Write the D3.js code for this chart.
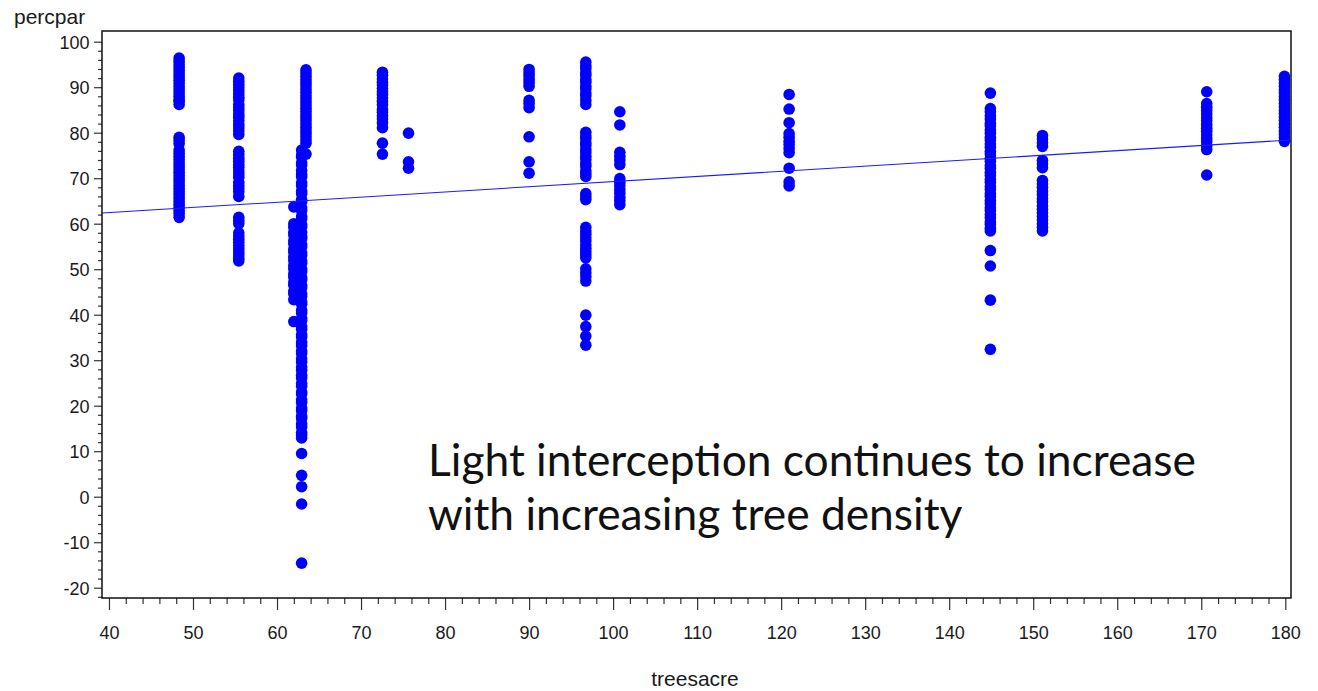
<!DOCTYPE html>
<html>
<head>
<meta charset="utf-8">
<script src="https://cdn.jsdelivr.net/npm/d3@7"></script>
<style>
  html, body { margin: 0; padding: 0; background: #fff; }
  svg { display: block; }
</style>
</head>
<body>
<svg id="chart" width="1318" height="691"></svg>
<script>
// Stand densities (trees per acre) and measured percent PAR interception at each stand
const stands = [48.35, 55.45, 63.45, 62.93, 62.0, 72.55, 75.65, 90.0, 96.75, 100.8, 120.95, 144.9, 151.1, 170.65, 179.9];

const par48 = [96.4, 95.7, 95.0, 94.3, 93.6, 92.9, 92.2, 91.5, 90.8, 90.1, 89.4, 88.7, 88.0, 87.3, 86.9, 86.2,
  79.0, 78.4, 77.6, 76.2, 75.5, 74.8, 74.1, 73.4, 72.7, 72.0, 71.3, 70.6, 69.9, 69.2, 68.5, 67.8, 67.1,
  66.4, 65.7, 65.0, 64.3, 63.6, 62.9, 62.2, 61.4];
const par55 = [92.0, 91.3, 90.6, 89.9, 89.2, 88.5, 87.8, 87.2, 86.2, 85.5, 84.8, 84.0, 83.4, 82.6, 81.8, 81.1, 80.4, 79.6,
  75.9, 75.2, 74.4, 73.7, 73.0, 72.4, 71.6, 70.9, 70.2, 69.1, 68.4, 67.7, 67.0, 66.0,
  61.4, 60.7, 60.0, 58.0, 57.3, 56.6, 55.9, 55.2, 54.5, 53.8, 53.1, 52.4, 51.8];
const par63a = [93.8, 93.1, 92.4, 91.7, 91.0, 90.3, 89.6, 88.9, 88.2, 87.5, 86.8, 86.1, 85.4, 84.7, 84.0, 83.3,
  82.6, 81.9, 81.2, 80.5, 79.8, 79.1, 78.4, 77.7, 75.3];
const par63b = [76.2, 75.1, 74.6, 73.4, 72.9, 71.7, 70.8, 70.3, 69.0, 68.4, 67.1, 66.6, 65.3, 64.8, 63.5, 62.9,
  61.6, 61.1, 59.8, 59.3, 58.1, 57.2, 56.7, 55.4, 54.9, 53.6, 53.0, 51.8, 51.3, 50.0, 49.5, 48.2, 47.7,
  46.4, 45.9, 44.6, 44.0, 42.8, 42.3, 41.0, 40.4, 39.2, 38.7, 37.4, 36.8, 35.6, 35.1, 33.9, 33.2, 32.0,
  31.5, 30.3, 29.6, 28.5, 27.8, 26.7, 26.1, 24.9, 24.3, 23.0, 22.6, 21.3, 20.7, 19.5, 18.9, 17.7, 17.2,
  16.0, 15.3, 14.1, 13.6, 12.9, 9.5, 4.7, 2.2, -1.6, -14.6];
const par62 = [63.7, 60.0, 59.2, 58.1, 57.5, 56.3, 55.6, 54.4, 53.8, 52.7, 51.9, 50.8, 50.1, 49.0, 48.3, 47.1,
  46.5, 45.2, 44.6, 43.3, 38.5];
const par72 = [93.3, 92.6, 91.8, 91.1, 90.5, 89.7, 89.0, 88.4, 87.6, 86.9, 86.2, 85.1, 84.5, 83.7, 83.0, 82.2,
  81.1, 77.7, 75.3];
const par75 = [79.9, 73.6, 72.2];
const par90 = [93.9, 93.1, 92.5, 91.7, 91.0, 90.2, 87.1, 86.4, 85.5, 79.1, 73.6, 71.1];
const par97 = [95.5, 94.7, 94.1, 93.2, 92.6, 91.7, 91.1, 90.2, 89.6, 88.7, 88.1, 87.1, 86.2,
  80.1, 79.3, 78.7, 77.8, 77.2, 76.3, 75.6, 74.8, 74.1, 73.2, 72.6, 71.6, 71.0, 70.4,
  66.6, 65.9, 65.3, 59.2, 58.4, 57.7, 56.9, 56.2, 55.3, 54.6, 53.9, 53.2, 52.5,
  50.1, 49.2, 48.4, 47.4, 39.9, 37.4, 35.3, 33.3];
const par101 = [84.6, 81.7, 75.7, 74.8, 74.0, 73.0, 69.9, 69.1, 68.4, 67.5, 66.7, 65.8, 65.1, 64.2];
const par121 = [88.4, 85.2, 82.2, 79.8, 79.0, 78.1, 77.4, 76.5, 75.6, 72.2, 69.2, 68.3];
const par145 = [88.7, 85.3, 84.6, 83.7, 83.0, 82.1, 81.5, 80.6, 79.9, 79.0, 78.4, 77.5, 76.8, 75.9, 75.3, 74.4,
  73.7, 72.8, 72.2, 71.3, 70.6, 69.7, 69.1, 68.2, 67.5, 66.6, 66.0, 65.1, 64.4, 63.5, 62.9, 62.0, 61.3,
  60.4, 59.8, 59.0, 58.4, 54.1, 50.7, 43.2, 32.4];
const par151 = [79.4, 78.6, 77.8, 77.0, 73.9, 73.1, 72.3, 69.5, 68.7, 68.0, 67.1, 66.4, 65.5, 64.8, 63.9, 63.2,
  62.4, 61.6, 60.8, 60.0, 59.2, 58.4];
const par171 = [89.0, 86.4, 85.6, 84.9, 84.1, 83.3, 82.6, 81.8, 81.0, 80.3, 79.5, 78.7, 78.0, 77.1, 76.3, 70.7];
const par180 = [92.4, 91.7, 90.9, 90.2, 89.4, 88.7, 87.9, 87.2, 86.4, 85.7, 84.9, 84.2, 83.4, 82.7, 81.9, 81.2,
  80.4, 79.7, 78.9, 78.1];

const parByStand = [par48, par55, par63a, par63b, par62, par72, par75, par90, par97, par101, par121, par145, par151, par171, par180];

// Fitted linear regression of percpar on treesacre
const fitIntercept = 57.9;
const fitSlope = 0.1135;

// Axis ticks
const xMajorTicks = [40, 50, 60, 70, 80, 90, 100, 110, 120, 130, 140, 150, 160, 170, 180];
const yMajorTicks = [-20, -10, 0, 10, 20, 30, 40, 50, 60, 70, 80, 90, 100];

const xLabel = "treesacre";
const yLabel = "percpar";
const noteLines = ["Light interception continues to increase", "with increasing tree density"];

// Build the point table
const points = [];
stands.forEach((s, i) => parByStand[i].forEach(v => points.push({ x: s, y: v })));

const plot = { left: 102, right: 1291, top: 31, bottom: 598 };
const svg = d3.select("#chart");

const x = d3.scaleLinear().domain([39.17, 180.68]).range([plot.left, plot.right]);
const y = d3.scaleLinear().domain([-22.26, 102.35]).range([plot.bottom, plot.top]);

const tickFont = "'Liberation Sans', Arial, sans-serif";
const plainNumber = d => String(d);   // keep an ASCII hyphen for negatives

// Minor ticks (every 2 units)
const xMinor = d3.range(40, 181, 2).filter(v => v % 10 !== 0);
const yMinor = d3.range(-22, 101, 2).filter(v => v % 10 !== 0);

const gx = svg.append("g").attr("transform", `translate(0,${plot.bottom})`);
gx.call(d3.axisBottom(x).tickValues(xMinor).tickSize(6).tickFormat(""));
gx.call(g => g.select(".domain").remove());
const gxMaj = svg.append("g").attr("transform", `translate(0,${plot.bottom})`);
gxMaj.call(d3.axisBottom(x).tickValues(xMajorTicks).tickSize(12).tickFormat(plainNumber));
gxMaj.select(".domain").remove();
gxMaj.selectAll("text")
  .attr("y", 41).attr("dy", 0)
  .style("font-family", tickFont).style("font-size", "18px").attr("fill", "#1a1a1a");

const gy = svg.append("g").attr("transform", `translate(${plot.left},0)`);
gy.call(d3.axisLeft(y).tickValues(yMinor).tickSize(4).tickFormat(""));
gy.select(".domain").remove();
const gyMaj = svg.append("g").attr("transform", `translate(${plot.left},0)`);
gyMaj.call(d3.axisLeft(y).tickValues(yMajorTicks).tickSize(8).tickFormat(plainNumber));
gyMaj.select(".domain").remove();
gyMaj.selectAll("text")
  .attr("x", -12.5).attr("dy", "0.36em")
  .style("font-family", tickFont).style("font-size", "18px").attr("fill", "#1a1a1a");

svg.selectAll(".tick line").attr("stroke", "#333").attr("stroke-width", 1.2);

// Data points
svg.append("g").selectAll("circle")
  .data(points)
  .join("circle")
  .attr("cx", d => x(d.x))
  .attr("cy", d => y(d.y))
  .attr("r", 5.8)
  .attr("fill", "#0000ff");

// Regression line across the axis range
const xd = x.domain();
svg.append("line")
  .attr("x1", x(xd[0])).attr("y1", y(fitIntercept + fitSlope * xd[0]))
  .attr("x2", x(xd[1])).attr("y2", y(fitIntercept + fitSlope * xd[1]))
  .attr("stroke", "#1a1aff").attr("stroke-width", 1.1);

// Plot frame
svg.append("rect")
  .attr("x", plot.left).attr("y", plot.top)
  .attr("width", plot.right - plot.left).attr("height", plot.bottom - plot.top)
  .attr("fill", "none").attr("stroke", "#111").attr("stroke-width", 1.5);

// Axis titles
svg.append("text")
  .attr("x", 14).attr("y", 24)
  .style("font-family", tickFont).style("font-size", "21px").attr("fill", "#1a1a1a")
  .text(yLabel);
svg.append("text")
  .attr("x", 695).attr("y", 686).attr("text-anchor", "middle")
  .style("font-family", tickFont).style("font-size", "21px").attr("fill", "#1a1a1a")
  .text(xLabel);

// Annotation
const note = svg.append("g");
const noteText = note.selectAll("text")
  .data(noteLines)
  .join("text")
  .attr("x", 428)
  .attr("y", (d, i) => 476 + i * 54)
  .style("font-family", "Lato, 'Open Sans', sans-serif")
  .style("font-size", "40px")
  .attr("fill", "#111")
  .text(d => d);
// size the annotation so its first line spans the intended width
const w0 = noteText.node().getComputedTextLength();
noteText.style("font-size", (40 * 768 / w0).toFixed(2) + "px");
</script>
</body>
</html>
